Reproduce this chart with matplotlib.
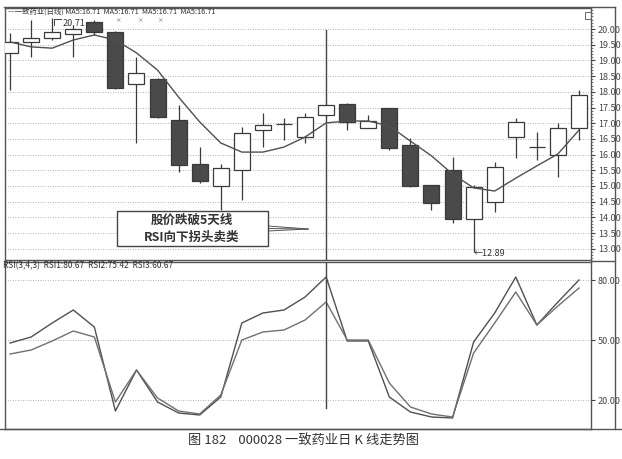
import matplotlib
matplotlib.use("Agg")
import matplotlib.pyplot as plt
from matplotlib.lines import Line2D
from matplotlib.patches import Rectangle

plt.rcParams['font.family'] = ['Noto Sans CJK SC', 'DejaVu Sans']

# daily K-line values
opens = [19.24, 19.59, 19.71, 19.84, 20.22, 19.90, 18.25, 18.41, 17.10, 15.70,
         15.00, 15.51, 16.78, 16.97, 16.56, 17.26, 17.61, 16.85, 17.48, 16.31,
         15.03, 15.51, 13.95, 14.49, 16.56, 16.24, 15.99, 16.85]
closes = [19.59, 19.71, 19.90, 20.00, 19.90, 18.12, 18.60, 17.20, 15.67, 15.16,
          15.57, 16.69, 16.94, 16.98, 17.20, 17.58, 17.04, 17.07, 16.21, 15.00,
          14.46, 13.95, 14.97, 15.61, 17.04, 16.25, 16.85, 17.90]
highs = [19.87, 20.29, 20.35, 20.13, 20.29, 19.94, 19.11, 18.44, 17.58, 16.24,
         15.70, 16.88, 17.32, 17.17, 17.32, 17.64, 17.64, 17.26, 17.48, 16.53,
         15.03, 15.92, 15.03, 15.76, 17.17, 16.72, 17.01, 18.06]
lows = [18.06, 19.11, 19.65, 19.11, 19.81, 18.09, 16.37, 17.17, 15.45, 15.10,
        14.24, 14.55, 16.24, 16.46, 16.37, 17.20, 16.78, 16.85, 16.15, 14.97,
        14.24, 13.82, 12.89, 14.17, 15.89, 15.83, 15.29, 16.46]
ma5 = [19.59, 19.43, 19.39, 19.65, 19.81, 19.65, 19.24, 18.69, 17.83, 17.04,
       16.37, 16.08, 16.08, 16.24, 16.56, 17.01, 17.07, 17.07, 16.91, 16.43,
       15.96, 15.38, 14.94, 14.84, 15.25, 15.64, 16.02, 16.78]
rsi1 = [48.5, 51.5, 58.5, 65.0, 56.5, 14.5, 35.0, 19.0, 13.5, 12.5,
        21.5, 58.5, 63.5, 65.0, 71.5, 81.5, 49.5, 49.5, 21.5, 14.0,
        11.5, 11.0, 49.0, 63.5, 81.5, 57.5, 69.0, 80.0]
rsi2 = [43.0, 45.0, 49.5, 54.5, 51.5, 19.0, 35.0, 21.0, 14.5, 13.0,
        22.5, 50.0, 54.0, 55.0, 60.0, 69.0, 50.0, 50.0, 28.5, 16.5,
        13.0, 11.5, 43.5, 58.5, 74.0, 57.5, 67.0, 76.0]
price_ticks = [13.0, 13.5, 14.0, 14.5, 15.0, 15.5, 16.0, 16.5, 17.0, 17.5,
               18.0, 18.5, 19.0, 19.5, 20.0]
rsi_ticks = [20, 50, 80]

W, H = 622, 459
GRAY = '#505050'
fig = plt.figure(figsize=(W / 100, H / 100), dpi=100)


def box(x0, y0, x1, y1):
    # pixel box (top-left origin) -> figure rect
    return [x0 / W, 1 - y1 / H, (x1 - x0) / W, (y1 - y0) / H]


def fline(xs, ys, **kw):
    fig.add_artist(Line2D([x / W for x in xs], [1 - y / H for y in ys],
                          transform=fig.transFigure, **kw))


def ftext(x, y, s, **kw):
    fig.text(x / W, 1 - y / H, s, **kw)


ax = fig.add_axes(box(5, 8, 591, 260))
ax2 = fig.add_axes(box(5, 262, 591, 429), sharex=ax)

idx = list(range(len(opens)))

# candles
for i in idx:
    o, c, hi, lo = opens[i], closes[i], highs[i], lows[i]
    up = c >= o
    ax.vlines(i, lo, hi, color='#3a3a3a', lw=0.9, zorder=2)
    ax.bar(i, max(abs(c - o), 0.01), bottom=min(o, c), width=0.76,
           color='white' if up else '#4a4a4a', edgecolor='#3a3a3a',
           lw=0.9, zorder=3)

ax.plot(idx, ma5, color=GRAY, lw=1.0, zorder=4)

ax.set_xlim(-0.24, 27.57)
ax.set_ylim(12.643, 20.669)
ax.set_yticks(price_ticks)
ax.set_yticks([t / 10 for t in range(127, 207)], minor=True)
ax.set_yticklabels(['%.2f' % t for t in price_ticks])
ax.yaxis.tick_right()
ax.tick_params(axis='y', which='major', labelsize=6.5, length=3, pad=2,
               colors='#444444')
ax.tick_params(axis='y', which='minor', length=1.5, color='#666666')
ax.tick_params(axis='x', bottom=False, labelbottom=False)
ax.grid(axis='y', linestyle=(0, (1, 2)), color='#999999', lw=0.6)

ax2.plot(idx, rsi1, color=GRAY, lw=1.0)
ax2.plot(idx, rsi2, color='#707070', lw=1.0)
ax2.set_ylim(5.5, 89)
ax2.set_yticks(rsi_ticks)
ax2.set_yticklabels(['%.2f' % t for t in rsi_ticks])
ax2.yaxis.tick_right()
ax2.tick_params(axis='y', labelsize=6.5, length=3, pad=2, colors='#444444')
ax2.tick_params(axis='x', bottom=False, labelbottom=False)
ax2.grid(axis='y', linestyle=(0, (1, 2)), color='#999999', lw=0.6)

for a in (ax, ax2):
    for s in a.spines.values():
        s.set_color('#555555')
        s.set_linewidth(1.0)

# cursor line
ax.axvline(15, ymin=0, ymax=0.913, color='#444444', lw=1.0)
ax2.axvline(15, ymin=0.126, ymax=1, color='#444444', lw=1.0)

# outer frame
fline([4, 615], [7, 7], color='#555555', lw=1.0)
fline([615, 615], [7, 429], color='#555555', lw=1.0)
fline([591, 615], [261, 261], color='#555555', lw=1.0)
fline([0, 622], [429, 429], color='#555555', lw=1.0)
fig.add_artist(Rectangle((585 / W, 1 - 19 / H), 6 / W, 7 / H,
                         transform=fig.transFigure, fill=False,
                         edgecolor='#666666', lw=0.7))

# headers
ftext(8, 12, '—一致药业(日线) MA5:16.71  MA5:16.71  MA5:16.71  MA5:16.71',
      fontsize=5.3, va='center', color='#333333')
for xp in (118, 140, 160):
    ftext(xp, 20.5, '×', fontsize=4, va='center', ha='center', color='#555555')
ftext(3, 266, 'RSI(3,4,3)  RSI1:80.67  RSI2:75.42  RSI3:60.67', fontsize=6,
      va='center', color='#333333')

# price marks
fline([54, 54, 61], [25, 19, 19], color='#444444', lw=0.7)
ftext(63, 23, '20.71', fontsize=6.5, va='center', color='#333333')
ftext(474, 254, '←12.89', fontsize=6.5, va='center', color='#333333')

# annotation box
fig.add_artist(Rectangle((117 / W, 1 - 246 / H), 151 / W, 35 / H,
                         transform=fig.transFigure, facecolor='white',
                         edgecolor='#444444', lw=1.0, zorder=5))
ftext(192, 220, '股价跌破5天线', fontsize=9, fontweight='bold', ha='center',
      va='center', color='#333333', zorder=6)
ftext(192, 237, 'RSI向下拐头卖类', fontsize=9, fontweight='bold', ha='center',
      va='center', color='#333333', zorder=6)
for yy in (226, 228.5, 231):
    fline([268, 308], [yy, 229], color='#555555', lw=0.7)

# caption
ftext(303, 441, '图 182    000028 一致药业日 K 线走势图', fontsize=9.5,
      ha='center', va='center', color='#333333')

fig.savefig('out.png', dpi=100)
